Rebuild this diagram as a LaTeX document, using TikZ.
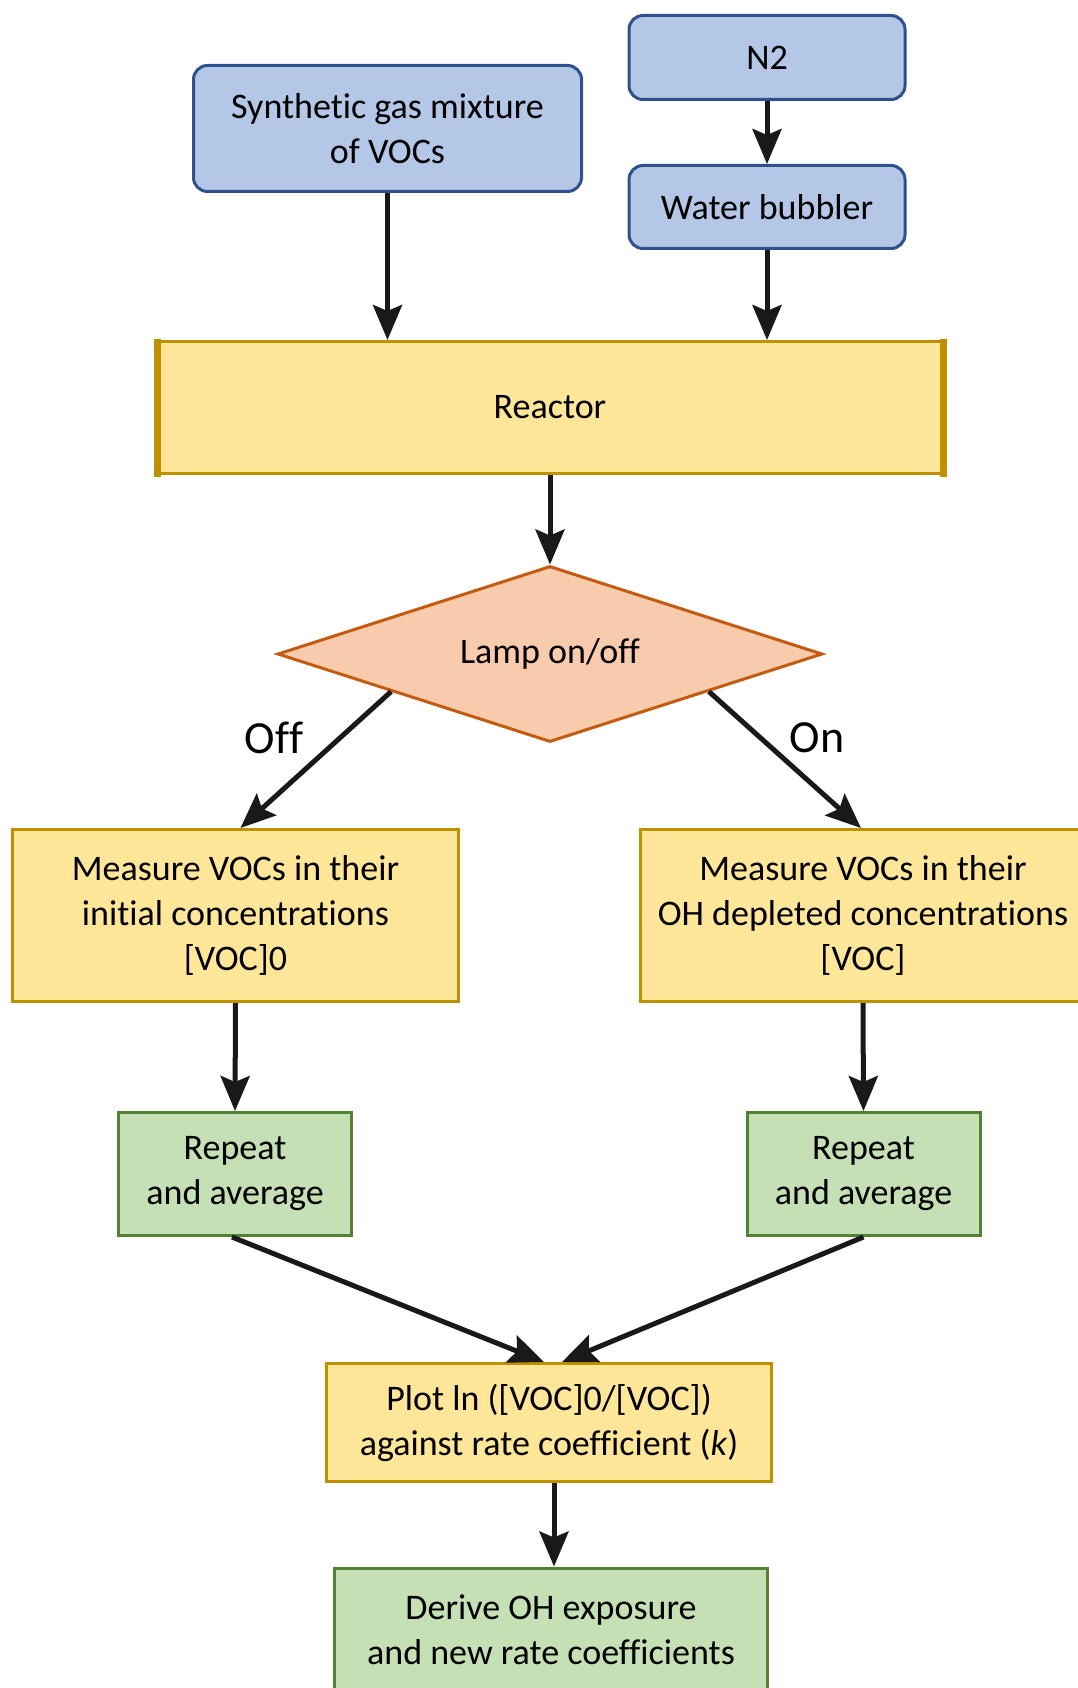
\documentclass[tikz,border=0pt]{standalone}
\usepackage{fontspec}
\setmainfont[Ligatures=NoCommon]{Carlito}
\usetikzlibrary{shapes.geometric,arrows.meta,calc}
\definecolor{bfill}{HTML}{B4C7E7}
\definecolor{bdraw}{HTML}{2F528F}
\definecolor{yfill}{HTML}{FFE699}
\definecolor{ydraw}{HTML}{BF9000}
\definecolor{ofill}{HTML}{F8CBAD}
\definecolor{odraw}{HTML}{C55A11}
\definecolor{gfill}{HTML}{C5E0B4}
\definecolor{gdraw}{HTML}{548235}
\definecolor{arr}{HTML}{191919}
\begin{document}
\begin{tikzpicture}[x=1pt,y=-1pt,
  txt/.style={font=\fontsize{36}{45}\selectfont, align=center, inner sep=0pt, text=black},
  bluebox/.style={txt, draw=bdraw, fill=bfill, line width=3pt, rounded corners=14pt},
  yellowbox/.style={txt, draw=ydraw, fill=yfill, line width=3pt},
  greenbox/.style={txt, draw=gdraw, fill=gfill, line width=3pt},
  decision/.style={txt, diamond, draw=odraw, fill=ofill, line width=3pt, shape aspect=3.08},
  lbl/.style={font=\fontsize{46}{50}\selectfont, inner sep=0pt},
  conn/.style={draw=arr, line width=5pt, -{Stealth[length=35pt,width=29pt,inset=6pt]}}
]
\useasboundingbox (0,0) rectangle (1077,1688);

\node[bluebox, minimum width=388pt, minimum height=126pt] (syn) at (387.5,128.5) {Synthetic gas mixture\\of VOCs};
\node[bluebox, minimum width=276pt, minimum height=84pt] (n2) at (767,57.5) {N2};
\node[bluebox, minimum width=276pt, minimum height=83pt] (wb) at (767,207) {Water bubbler};

\node[yellowbox, minimum width=787pt, minimum height=132pt] (reac) at (550,407.5) {Reactor};
\draw[ydraw, line width=7pt] ($(reac.north west)+(2,-1.5)$) -- ($(reac.south west)+(2,1.5)$);
\draw[ydraw, line width=7pt] ($(reac.north east)+(-2,-1.5)$) -- ($(reac.south east)+(-2,1.5)$);

\node[decision, minimum width=545pt, minimum height=176pt] (dia) at (550,654) {Lamp on/off};

\node[yellowbox, minimum width=446pt, minimum height=172pt] (m1) at (235.5,915.5) {Measure VOCs in their\\initial concentrations\\{[VOC]0}};
\node[yellowbox, minimum width=446pt, minimum height=172pt] (m2) at (863,915.5) {Measure VOCs in their\\OH depleted concentrations\\{[VOC]}};

\node[greenbox, minimum width=233pt, minimum height=123pt] (r1) at (235,1174) {Repeat\\and average};
\node[greenbox, minimum width=233pt, minimum height=123pt] (r2) at (863.5,1174) {Repeat\\and average};

\node[yellowbox, minimum width=445pt, minimum height=118pt] (plot) at (549,1422.5) {Plot ln ([VOC]0/[VOC])\\against rate coefficient (\textit{k})};
\node[greenbox, minimum width=433pt, minimum height=124pt] (der) at (551,1630) {Derive OH exposure\\and new rate coefficients};

\node[lbl] (off) at (274,738) {Off};
\node[lbl] (on) at (817,738) {On};

\coordinate (dl) at ($(dia.west)!0.42!(dia.south)$);
\coordinate (dr) at ($(dia.east)!0.42!(dia.south)$);
\coordinate (ps) at ($(plot.south)+(5,0)$);

\draw[conn] (syn.south) -- (syn.south |- reac.north);
\draw[conn] (n2.south) -- (wb.north);
\draw[conn] (wb.south) -- (wb.south |- reac.north);
\draw[conn] (reac.south) -- (dia.north);
\draw[conn] (dl) -- ($(m1.north)+(5,0)$);
\draw[conn] (dr) -- ($(m2.north)+(-2,0)$);
\draw[conn] (m1.south) -- (r1.north);
\draw[conn] (m2.south) -- (r2.north);
\draw[conn] ($(r1.south)+(-3,0)$) -- ($(plot.north)+(-5,0)$);
\draw[conn] (r2.south) -- ($(plot.north)+(13,0)$);
\draw[conn] (ps) -- (ps |- der.north);
\end{tikzpicture}
\end{document}
